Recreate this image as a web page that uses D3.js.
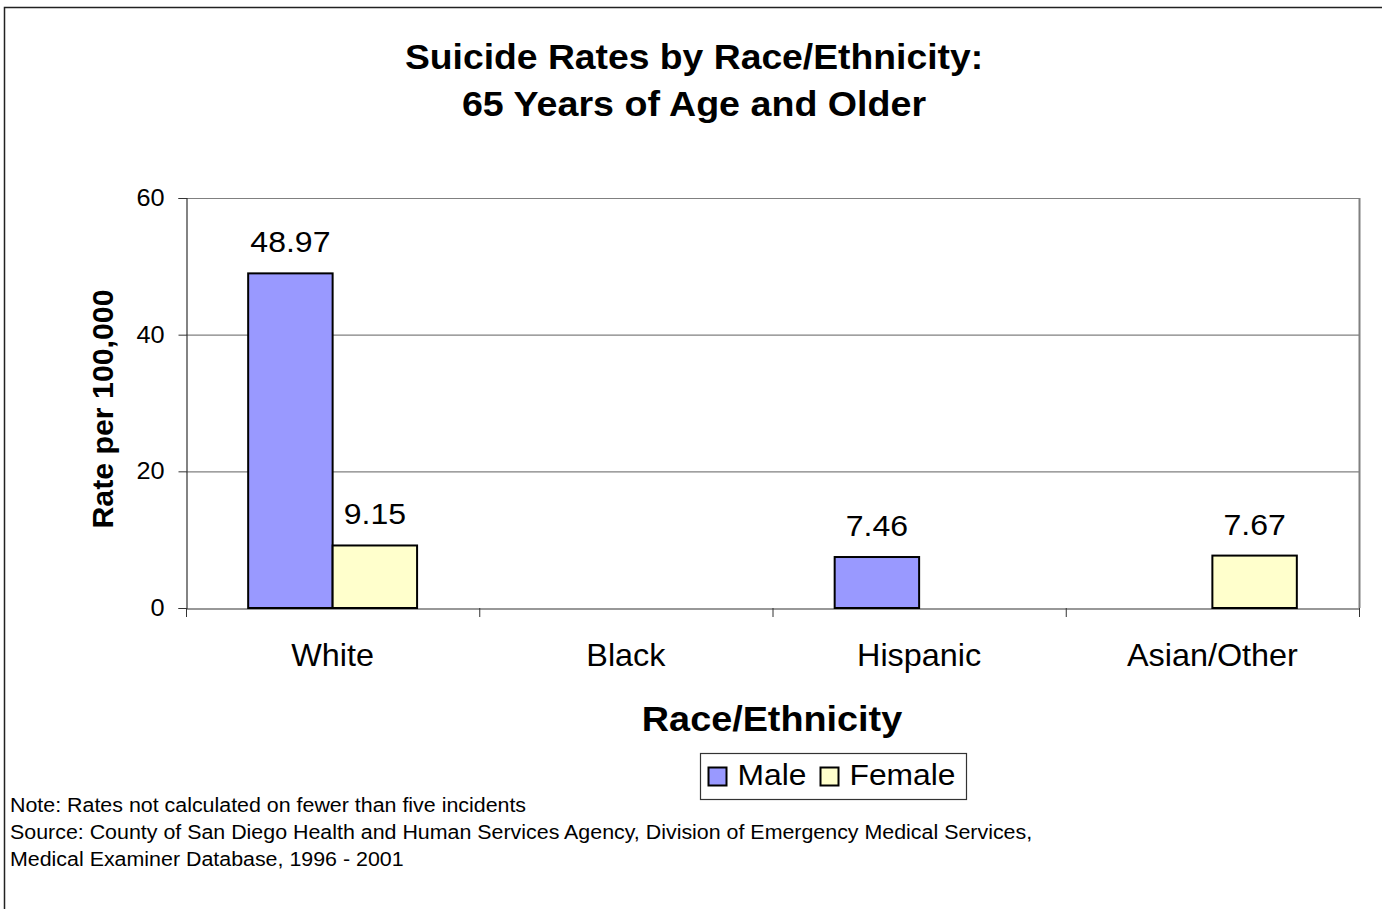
<!DOCTYPE html>
<html>
<head>
<meta charset="utf-8">
<script src="https://cdn.jsdelivr.net/npm/d3@7"></script>
<style>
  body { margin: 0; background: #fff; }
  svg { display: block; font-family: "Liberation Sans", Arial, sans-serif; }
</style>
</head>
<body>
<div id="chart"></div>
<script>
var categories = ['White', 'Black', 'Hispanic', 'Asian/Other'];
var seriesNames = ['Male', 'Female'];
var maleValues = [48.97, null, 7.46, null];
var femaleValues = [9.15, null, null, 7.67];
var yTicks = [0, 20, 40, 60];
var colors = { Male: '#9999ff', Female: '#ffffcc' };

var width = 1382, height = 909;
var plot = { left: 186, top: 198, right: 1359, bottom: 608 };
var FONT = '"Liberation Sans", Arial, sans-serif';

var svg = d3.select('#chart').append('svg')
  .attr('width', width)
  .attr('height', height);

// text placed at (x,y), stretched a little sideways like the original rendering
function label(parent, x, y, txt, size, sx, anchor, bold, rotate) {
  var t = parent.append('text')
    .attr('transform', 'translate(' + x + ',' + y + ')' + (rotate ? ' rotate(' + rotate + ')' : '') + ' scale(' + sx + ',1)')
    .attr('text-anchor', anchor || 'start')
    .style('font-size', size + 'px')
    .text(txt);
  if (bold) t.style('font-weight', 'bold');
  return t;
}

// outer frame (runs off the right and bottom edges)
svg.append('rect')
  .attr('x', 4.5).attr('y', 7.5)
  .attr('width', width + 10).attr('height', height + 10)
  .attr('fill', 'none').attr('stroke', '#222').attr('stroke-width', 1.5);

label(svg, 694, 69, 'Suicide Rates by Race/Ethnicity:', 35, 1.066, 'middle', true);
label(svg, 694, 116, '65 Years of Age and Older', 35, 1.075, 'middle', true);

var x = d3.scaleBand()
  .domain(categories)
  .range([plot.left, plot.right]);

var y = d3.scaleLinear()
  .domain([0, 60])
  .range([plot.bottom, plot.top]);

var barW = x.bandwidth() * 0.288;

// gridlines
svg.append('g').selectAll('line')
  .data(yTicks.filter(function(t){ return t > 0; }))
  .enter().append('line')
  .attr('x1', plot.left).attr('x2', plot.right)
  .attr('y1', function(d){ return y(d) + 0.5; })
  .attr('y2', function(d){ return y(d) + 0.5; })
  .attr('stroke', '#808080').attr('stroke-width', 1.2);

// right border of plot area
svg.append('line')
  .attr('x1', plot.right + 0.5).attr('x2', plot.right + 0.5)
  .attr('y1', plot.top).attr('y2', plot.bottom)
  .attr('stroke', '#808080').attr('stroke-width', 2);

// y axis
var tickSx = 1.1;
var yAxis = svg.append('g')
  .attr('transform', 'translate(' + (plot.left + 0.5) + ',0)')
  .call(d3.axisLeft(y).tickValues(yTicks).tickSize(8).tickPadding(14));
yAxis.select('.domain').attr('stroke', '#333').attr('stroke-width', 1.2);
yAxis.selectAll('.tick line').attr('stroke', '#333');
yAxis.selectAll('.tick text')
  .style('font-size', '23px').style('font-family', FONT)
  .attr('fill', '#000')
  .attr('x', -22 / tickSx)
  .attr('transform', 'scale(' + tickSx + ',1)');

// x axis
var xAxis = svg.append('g')
  .attr('transform', 'translate(0,' + (plot.bottom + 0.5) + ')')
  .call(d3.axisBottom(x).tickSize(0).tickPadding(35));
xAxis.select('.domain').attr('stroke', '#333').attr('stroke-width', 1.2);
xAxis.selectAll('.tick text')
  .style('font-size', '31px').style('font-family', FONT)
  .attr('fill', '#000')
  .attr('transform', 'scale(1.045,1)');
svg.append('g').selectAll('line')
  .data(d3.range(categories.length + 1))
  .enter().append('line')
  .attr('x1', function(i){ return plot.left + i * x.step() + 0.5; })
  .attr('x2', function(i){ return plot.left + i * x.step() + 0.5; })
  .attr('y1', plot.bottom).attr('y2', plot.bottom + 9)
  .attr('stroke', '#333');

// bars
var bars = [];
categories.forEach(function(c, i) {
  if (maleValues[i] != null) bars.push({ cat: c, s: 'Male', v: maleValues[i], off: -barW });
  if (femaleValues[i] != null) bars.push({ cat: c, s: 'Female', v: femaleValues[i], off: 0 });
});

svg.append('g').selectAll('rect')
  .data(bars)
  .enter().append('rect')
  .attr('x', function(d){ return x(d.cat) + x.bandwidth() / 2 + d.off; })
  .attr('y', function(d){ return y(d.v); })
  .attr('width', barW)
  .attr('height', function(d){ return y(0) - y(d.v); })
  .attr('fill', function(d){ return colors[d.s]; })
  .attr('stroke', '#000').attr('stroke-width', 2);

var valueLayer = svg.append('g');
bars.forEach(function(d) {
  label(valueLayer, x(d.cat) + x.bandwidth() / 2 + d.off + barW / 2, y(d.v) - 21,
    d.v.toFixed(2), 30, 1.067, 'middle');
});

// axis titles
label(svg, 113, 409, 'Rate per 100,000', 29, 1.045, 'middle', true, -90);
label(svg, 772, 731, 'Race/Ethnicity', 35, 1.08, 'middle', true);

// legend
var legend = svg.append('g').attr('transform', 'translate(700.5,753.5)');
legend.append('rect')
  .attr('width', 266).attr('height', 46)
  .attr('fill', '#fff').attr('stroke', '#333').attr('stroke-width', 1.2);
var legendX = [8, 120];
seriesNames.forEach(function(s, i) {
  legend.append('rect')
    .attr('x', legendX[i]).attr('y', 14)
    .attr('width', 18).attr('height', 18)
    .attr('fill', colors[s]).attr('stroke', '#000').attr('stroke-width', 2);
  label(legend, legendX[i] + 29, 31, s, 30, 1.06, 'start');
});

// notes
var notes = [
  'Note: Rates not calculated on fewer than five incidents',
  'Source: County of San Diego Health and Human Services Agency, Division of Emergency Medical Services,',
  'Medical Examiner Database, 1996 - 2001'
];
var noteLayer = svg.append('g');
notes.forEach(function(n, i) {
  label(noteLayer, 10, 812 + i * 27, n, 20, 1.07, 'start');
});
</script>
</body>
</html>
